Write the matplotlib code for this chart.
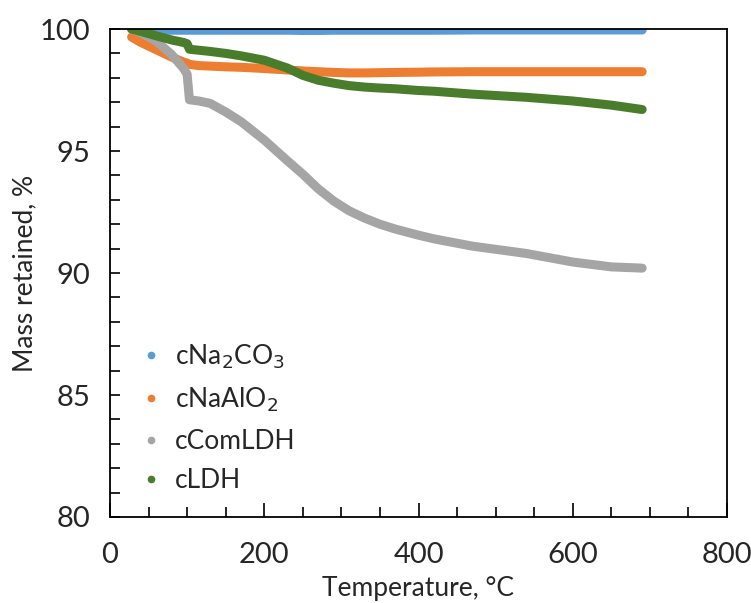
import matplotlib.pyplot as plt
from matplotlib.ticker import MultipleLocator

plt.rcParams['font.family'] = ['Lato', 'DejaVu Sans']

# temperature grid, degC
temp = [28, 40, 60, 80, 95, 100, 103, 115, 130, 150, 170, 200, 230, 250, 270,
        290, 310, 330, 350, 370, 400, 420, 470, 540, 600, 650, 690]

na2co3 = [100.0, 99.97, 99.96, 99.95, 99.95, 99.95, 99.95, 99.95, 99.95, 99.95,
          99.95, 99.95, 99.95, 99.94, 99.94, 99.95, 99.95, 99.95, 99.95, 99.95,
          99.95, 99.95, 99.96, 99.96, 99.96, 99.96, 99.96]
naalo2 = [99.67, 99.45, 99.15, 98.85, 98.65, 98.6, 98.55, 98.5, 98.48, 98.45,
          98.43, 98.38, 98.32, 98.28, 98.25, 98.22, 98.2, 98.2, 98.21, 98.22,
          98.23, 98.24, 98.25, 98.25, 98.25, 98.25, 98.25]
comldh = [100.0, 99.85, 99.5, 98.95, 98.4, 98.15, 97.1, 97.05, 96.95, 96.6,
          96.2, 95.45, 94.6, 94.05, 93.45, 92.95, 92.55, 92.25, 92.0, 91.8,
          91.55, 91.4, 91.1, 90.8, 90.45, 90.25, 90.2]
ldh = [100.0, 99.9, 99.72, 99.55, 99.45, 99.4, 99.17, 99.13, 99.08, 99.0,
       98.9, 98.72, 98.4, 98.1, 97.9, 97.78, 97.68, 97.62, 97.58, 97.55,
       97.48, 97.45, 97.33, 97.2, 97.05, 96.88, 96.7]

names = ['cNa$_2$CO$_3$', 'cNaAlO$_2$', 'cComLDH', 'cLDH']
colors = ['#5b9bd5', '#ed7d31', '#a5a5a5', '#4a7d2b']
txt = '#262626'

fig = plt.figure(figsize=(7.51, 6.03), dpi=100)
ax = fig.add_axes([110/751, 1-517/603, 617/751, 488/603])

for y, name, c in zip([na2co3, naalo2, comldh, ldh], names, colors):
    ax.plot(temp, y, color=c, lw=6.5, solid_capstyle='round', solid_joinstyle='round')
    ax.plot([], [], 'o', color=c, ms=4.5, label=name)

ax.set_xlim(0, 800)
ax.set_ylim(80, 100)
ax.xaxis.set_major_locator(MultipleLocator(200))
ax.xaxis.set_minor_locator(MultipleLocator(50))
ax.yaxis.set_major_locator(MultipleLocator(5))
ax.yaxis.set_minor_locator(MultipleLocator(1))
ax.tick_params(which='both', direction='in', labelsize=21, width=1.2,
               labelcolor=txt)
ax.tick_params(axis='x', which='major', length=10, pad=18)
ax.tick_params(axis='x', which='minor', length=7)
ax.tick_params(axis='y', which='both', length=7)
ax.tick_params(axis='y', pad=14)
for s in ax.spines.values():
    s.set_linewidth(1.3)

ax.set_xlabel('Temperature, °C', fontsize=19, color=txt, labelpad=6)
ax.set_ylabel('Mass retained, %', fontsize=19, color=txt, labelpad=2)

ax.legend(loc='lower left', bbox_to_anchor=(0.0, 0.0), frameon=False, fontsize=19,
          handletextpad=0.25, labelspacing=0.55, handlelength=1.3,
          labelcolor=txt)

fig.savefig('out.png', dpi=100)
